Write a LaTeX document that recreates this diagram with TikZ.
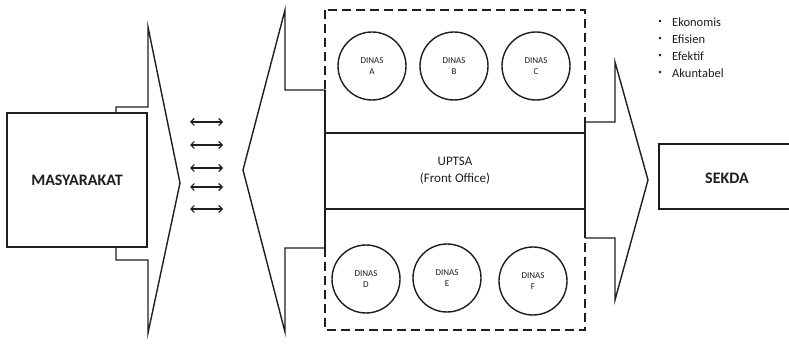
\documentclass[tikz,border=0pt]{standalone}
\usepackage{fontspec}
\setmainfont{Carlito}
\usetikzlibrary{arrows.meta}
\definecolor{ink}{HTML}{1E1E1E}
\begin{document}
\begin{tikzpicture}[x=1pt,y=-1pt,
  shapeline/.style={draw=ink,line width=1.4pt,fill=white,line join=miter},
  dinas/.style={circle,draw=ink,line width=1.4pt,minimum size=68pt,inner sep=0pt,align=center,font=\fontsize{9}{11}\selectfont,text=ink},
  boxlbl/.style={font=\fontsize{16}{18}\selectfont\bfseries,text=ink},
  dbl/.style={{Straight Barb[length=3.5pt,width=7pt]}-{Straight Barb[length=3.5pt,width=7pt]},draw=ink,line width=1.1pt},
  bullet/.style={anchor=west,font=\fontsize{12.5}{14}\selectfont,text=ink,inner sep=0pt},
  dot/.style={anchor=center,font=\fontsize{7}{8}\selectfont,text=ink,inner sep=0pt}]
\clip (0,0) rectangle (789,344);
\fill[white] (0,0) rectangle (789,344);
% left arrow (pointing right)
\draw[shapeline] (116,107) -- (148,107) -- (148,27) -- (180,183) -- (148,333) -- (148,260) -- (116,260) -- cycle;
% MASYARAKAT box
\node[draw=ink,line width=1.4pt,fill=white,minimum width=140pt,minimum height=134pt,inner sep=0pt,boxlbl] (mas) at (77,180) {MASYARAKAT};
% double arrows
\foreach \i/\yy in {1/122,2/145,3/168,4/187,5/209}{
  \coordinate (al\i) at (190,\yy);
  \coordinate (ar\i) at (223,\yy);
  \draw[dbl] (al\i) -- (ar\i);
}
% middle arrow (pointing left)
\draw[shapeline] (325,90) -- (285,90) -- (285,10) -- (243,170) -- (285,332) -- (285,248) -- (325,248);
% right arrow (pointing right)
\draw[shapeline] (585,122) -- (615,122) -- (615,62) -- (648,180) -- (615,300) -- (615,238) -- (585,238);
% dashed frame
\draw[draw=ink,line width=2pt,dash pattern=on 9pt off 5pt] (325,10) rectangle (585,330);
\draw[draw=ink,line width=1.4pt] (325,90) -- (325,248);
\draw[draw=ink,line width=1.4pt] (585,122) -- (585,238);
% UPTSA band
\node[minimum width=260pt,minimum height=76pt,inner sep=0pt,align=center,font=\fontsize{13}{17}\selectfont,text=ink] (uptsa) at (455,171) {UPTSA\\(Front Office)};
\draw[draw=ink,line width=2pt] (uptsa.north west) -- (uptsa.north east);
\draw[draw=ink,line width=2pt] (uptsa.south west) -- (uptsa.south east);
% dinas circles
\node[dinas] (da) at (372,66) {DINAS\\A};
\node[dinas] (db) at (454,66) {DINAS\\B};
\node[dinas] (dc) at (536,66) {DINAS\\C};
\node[dinas] (dd) at (366,279) {DINAS\\D};
\node[dinas] (de) at (447,278) {DINAS\\E};
\node[dinas] (df) at (533,281) {DINAS\\F};
% SEKDA box
\draw[draw=ink,line width=1.4pt,fill=white] (659,144) rectangle (795,209);
\node[boxlbl] (sekda) at (727,178) {SEKDA};
% bullets
\foreach \t/\yy in {Ekonomis/22,Efisien/39,Efektif/56,Akuntabel/73}{
  \node[dot] at (660,\yy) {\textbullet};
  \node[bullet] at (672,\yy) {\t};
}
\end{tikzpicture}
\end{document}
